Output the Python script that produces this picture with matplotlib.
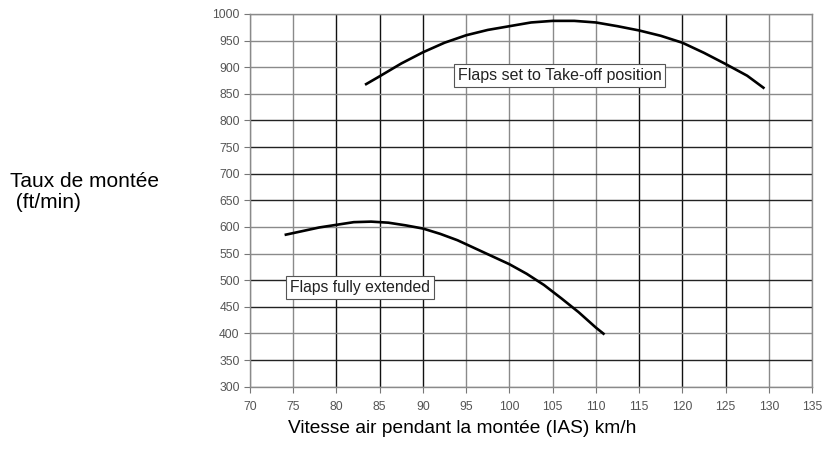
import matplotlib
matplotlib.use("Agg")
import matplotlib.pyplot as plt

## Data
x_takeoff = [83.3, 85, 87.5, 90, 92.5, 95, 97.5, 100, 102.5, 105, 107.5, 110, 112.5,
             115, 117.5, 120, 122.5, 125, 127.5, 129.5]
y_takeoff = [867, 883, 907, 928, 946, 960, 970, 977, 984, 987, 987, 984, 977,
             969, 959, 946, 927, 906, 884, 860]

x_full = [74, 76, 78, 80, 82, 84, 86, 88, 90, 92, 94, 96, 98, 100, 102, 104,
          106, 108, 110, 111]
y_full = [585, 592, 599, 604, 609, 610, 608, 603, 597, 587, 575, 560, 545, 530,
          512, 491, 466, 440, 411, 398]

x_ticks = list(range(70, 136, 5))
y_ticks = list(range(300, 1001, 50))
dark_x = [80, 85, 90, 115, 120, 125]
dark_y = [350, 450, 500, 650, 700, 750, 800]

plt.rcParams['font.family'] = ['Liberation Sans', 'DejaVu Sans']

fig = plt.figure(figsize=(8.32, 4.65), dpi=100)
ax = fig.add_axes([0.3005, 0.1684, 0.6755, 0.8016])

ax.plot(x_takeoff, y_takeoff, color='black', lw=1.9, solid_capstyle='butt')
ax.plot(x_full, y_full, color='black', lw=1.9, solid_capstyle='butt')

ax.set_xlim(70, 135)
ax.set_ylim(300, 1000)
ax.set_xticks(x_ticks)
ax.set_yticks(y_ticks)
ax.tick_params(labelsize=8.7, labelcolor='#555555', color='#777777', length=4, width=0.8)
ax.tick_params(axis='x', pad=6)

ax.grid(True, color='#8a8a8a', lw=1.0)
for line, v in zip(ax.get_xgridlines(), x_ticks):
    if v in dark_x:
        line.set_color('#111111')
for line, v in zip(ax.get_ygridlines(), y_ticks):
    if v in dark_y:
        line.set_color('#222222')
ax.set_axisbelow(True)
for s in ax.spines.values():
    s.set_color('#8a8a8a')
    s.set_linewidth(1.0)

box = dict(boxstyle='square,pad=0.25', fc='white', ec='#555555', lw=0.8)
ax.text(105.8, 885, 'Flaps set to Take-off position', fontsize=11.5, ha='center', va='center',
        color='#222222', bbox=box)
ax.text(82.7, 486, 'Flaps fully extended', fontsize=11.3, ha='center', va='center',
        color='#222222', bbox=box)

fig.text(10 / 832, 1 - 192 / 465, 'Taux de montée\n (ft/min)', fontsize=15,
         ha='left', va='center', linespacing=1.1)
fig.text(462 / 832, 1 - 428 / 465, 'Vitesse air pendant la montée (IAS) km/h',
         fontsize=13.8, ha='center', va='center')

fig.savefig('out.png', dpi=100)
